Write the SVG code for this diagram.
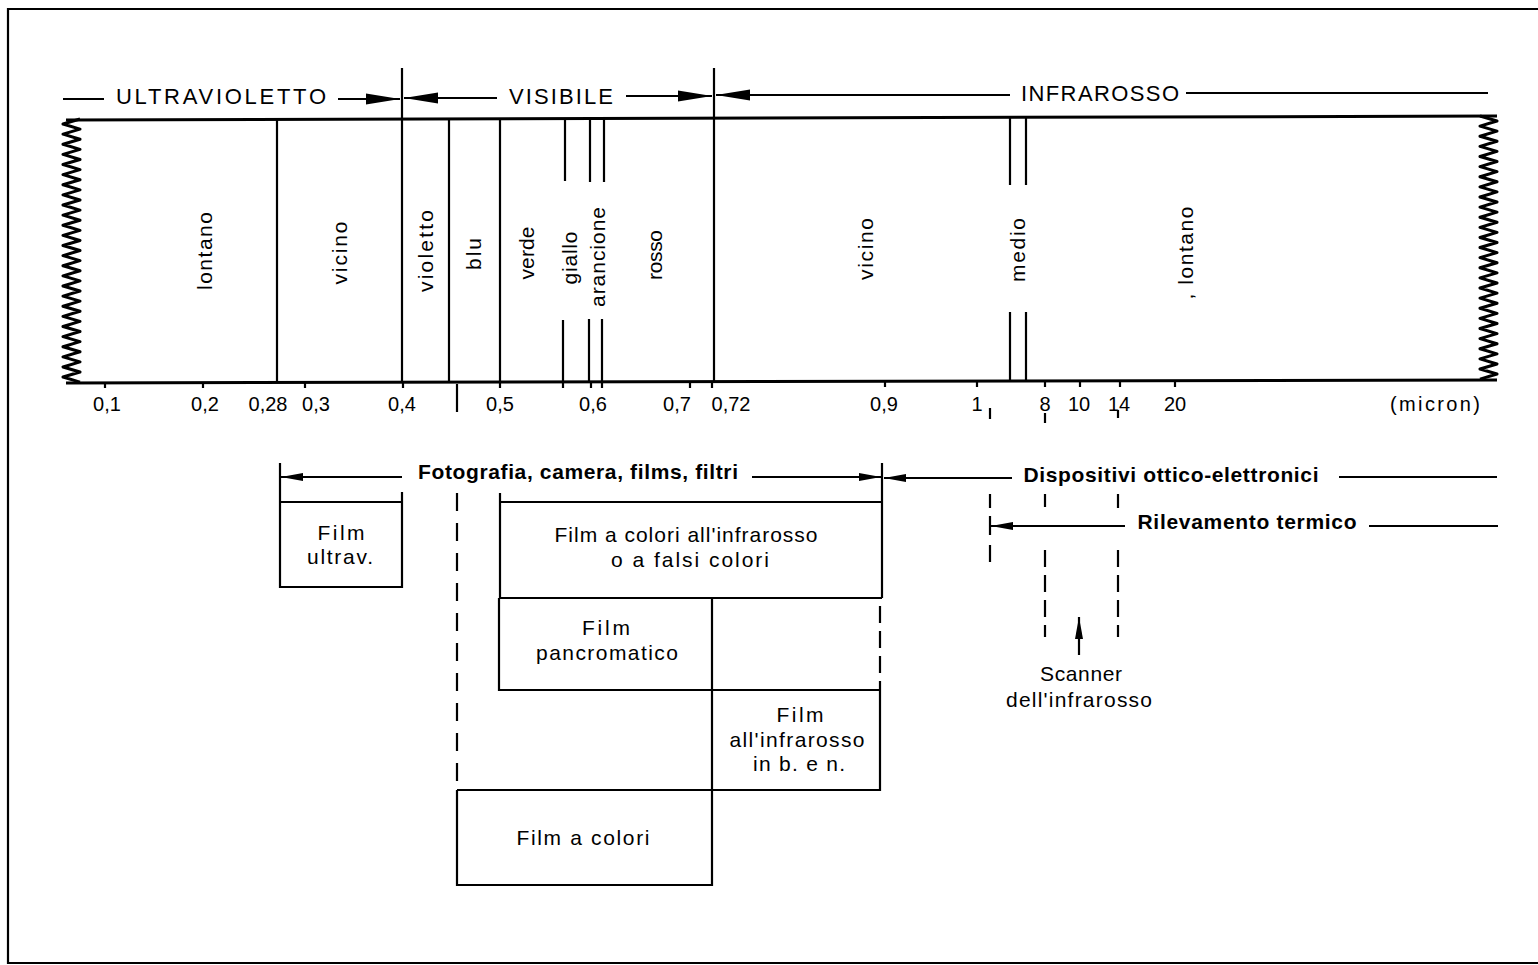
<svg xmlns="http://www.w3.org/2000/svg" width="1538" height="965" viewBox="0 0 1538 965">
<style>
.ln{stroke:#000;stroke-width:2.2;fill:none;stroke-linecap:butt}
.th{stroke-width:3}
.zz{stroke:#000;stroke-width:3;fill:none;stroke-linejoin:round}
.d1{stroke-dasharray:18 12}
.d2{stroke-dasharray:17 8}
.t{font-family:"Liberation Sans",Arial,sans-serif;fill:#000}
.hd{font-size:22px}
.sc{font-size:20px}
.bx{font-size:21px}
.bd{font-size:21px;font-weight:bold}
.vt{font-size:21px}
</style>
<defs>
<marker id="big" markerWidth="36" markerHeight="14" refX="34" refY="7" orient="auto" markerUnits="userSpaceOnUse">
<path d="M0,1.5 L34,7 L0,12.5 Z" fill="#000"/>
</marker>
<marker id="sm" markerWidth="24" markerHeight="10" refX="22" refY="5" orient="auto" markerUnits="userSpaceOnUse">
<path d="M0,1 L22,5 L0,9 Z" fill="#000"/>
</marker>
</defs>
<rect width="1538" height="965" fill="#fff"/>

<g id="frame">
<path class="ln" d="M1538,9 L8,9 L8,963 L1538,963"/>
</g>

<g id="spectrum-band">
<path class="ln th" d="M66,120 L1497,116"/>
<path class="ln th" d="M66,383 L1497,380"/>
<path class="zz" d="M80,119 l-17,5.06 17,5.06 -17,5.06 17,5.06 -17,5.06 17,5.06 -17,5.06 17,5.06 -17,5.06 17,5.06 -17,5.06 17,5.06 -17,5.06 17,5.06 -17,5.06 17,5.06 -17,5.06 17,5.06 -17,5.06 17,5.06 -17,5.06 17,5.06 -17,5.06 17,5.06 -17,5.06 17,5.06 -17,5.06 17,5.06 -17,5.06 17,5.06 -17,5.06 17,5.06 -17,5.06 17,5.06 -17,5.06 17,5.06 -17,5.06 17,5.06 -17,5.06 17,5.06 -17,5.06 17,5.06 -17,5.06 17,5.06 -17,5.06 17,5.06 -17,5.06 17,5.06 -17,5.06 17,5.06 -17,5.06 17,5.06"/>
<path class="zz" d="M1480,116 l17,5.06 -17,5.06 17,5.06 -17,5.06 17,5.06 -17,5.06 17,5.06 -17,5.06 17,5.06 -17,5.06 17,5.06 -17,5.06 17,5.06 -17,5.06 17,5.06 -17,5.06 17,5.06 -17,5.06 17,5.06 -17,5.06 17,5.06 -17,5.06 17,5.06 -17,5.06 17,5.06 -17,5.06 17,5.06 -17,5.06 17,5.06 -17,5.06 17,5.06 -17,5.06 17,5.06 -17,5.06 17,5.06 -17,5.06 17,5.06 -17,5.06 17,5.06 -17,5.06 17,5.06 -17,5.06 17,5.06 -17,5.06 17,5.06 -17,5.06 17,5.06 -17,5.06 17,5.06 -17,5.06 17,5.06 -17,5.06"/>
<path class="ln" d="M277,119 V382"/>
<path class="ln" d="M402,68 V382"/>
<path class="ln" d="M449,119 V382"/>
<path class="ln" d="M500,119 V382"/>
<path class="ln" d="M565,119 V181 M563,320 V382"/>
<path class="ln" d="M590,119 V182 M589,319 V382"/>
<path class="ln" d="M604,119 V182 M602,319 V382"/>
<path class="ln" d="M714,68 V382"/>
<path class="ln" d="M1010,117 V185 M1010,312 V381"/>
<path class="ln" d="M1026,117 V185 M1026,312 V381"/>
<path class="ln" d="M105,382 v6 M203,382 v6 M305,382 v6 M403,382 v6 M500,382 v6 M563,382 v6 M591,382 v6 M602,382 v6 M690,382 v6 M712,382 v6 M885,381 v6 M977,381 v6 M1045,381 v6 M1080,381 v6 M1120,381 v6 M1175,381 v6"/>
<path class="ln" d="M457,384 V412"/>
</g>

<g id="band-labels">
<text class="t vt" transform="translate(212,251) rotate(-90)" text-anchor="middle" textLength="78" lengthAdjust="spacing">lontano</text>
<text class="t vt" transform="translate(347,253) rotate(-90)" text-anchor="middle" textLength="63" lengthAdjust="spacing">vicino</text>
<text class="t vt" transform="translate(433,251) rotate(-90)" text-anchor="middle" textLength="82" lengthAdjust="spacing">violetto</text>
<text class="t vt" transform="translate(481,254) rotate(-90)" text-anchor="middle" textLength="32" lengthAdjust="spacing">blu</text>
<text class="t vt" transform="translate(534,253) rotate(-90)" text-anchor="middle" textLength="53" lengthAdjust="spacing">verde</text>
<text class="t vt" transform="translate(577,258) rotate(-90)" text-anchor="middle" textLength="53" lengthAdjust="spacing">giallo</text>
<text class="t vt" transform="translate(605,257) rotate(-90)" text-anchor="middle" textLength="100" lengthAdjust="spacing">arancione</text>
<text class="t vt" transform="translate(662,255) rotate(-90)" text-anchor="middle" textLength="50" lengthAdjust="spacing">rosso</text>
<text class="t vt" transform="translate(873,249) rotate(-90)" text-anchor="middle" textLength="62" lengthAdjust="spacing">vicino</text>
<text class="t vt" transform="translate(1025,250) rotate(-90)" text-anchor="middle" textLength="64" lengthAdjust="spacing">medio</text>
<text class="t vt" transform="translate(1193,253) rotate(-90)" text-anchor="middle" textLength="93" lengthAdjust="spacing">, lontano</text>
</g>

<g id="scale-labels" class="t sc" text-anchor="middle">
<text x="107" y="411">0,1</text>
<text x="205" y="411">0,2</text>
<text x="268" y="411">0,28</text>
<text x="316" y="411">0,3</text>
<text x="402" y="411">0,4</text>
<text x="500" y="411">0,5</text>
<text x="593" y="411">0,6</text>
<text x="677" y="411">0,7</text>
<text x="731" y="411">0,72</text>
<text x="884" y="411">0,9</text>
<text x="977" y="411">1</text>
<text x="1045" y="411">8</text>
<text x="1079" y="411">10</text>
<text x="1119" y="411">14</text>
<text x="1175" y="411">20</text>
<text x="1435" y="411" textLength="90" lengthAdjust="spacing">(micron)</text>
</g>

<g id="header-labels" class="t hd" text-anchor="middle">
<text x="221" y="104" textLength="210" lengthAdjust="spacing">ULTRAVIOLETTO</text>
<text x="561" y="104" textLength="104" lengthAdjust="spacing">VISIBILE</text>
<text x="1100" y="101" textLength="158" lengthAdjust="spacing">INFRAROSSO</text>
</g>

<g id="film-ultrav">
<path class="ln" d="M280,463 V587 H402 V492 M280,502 H402"/>
<text class="t bx" x="341" y="540" text-anchor="middle" textLength="47" lengthAdjust="spacing">Film</text>
<text class="t bx" x="340" y="564" text-anchor="middle" textLength="66" lengthAdjust="spacing">ultrav.</text>
</g>

<g id="film-colori-infrarosso">
<path class="ln" d="M500,493 V598 M500,502 H882 M500,598 H882 M882,463 V598"/>
<text class="t bx" x="686" y="542" text-anchor="middle" textLength="263" lengthAdjust="spacing">Film a colori all'infrarosso</text>
<text class="t bx" x="690" y="567" text-anchor="middle" textLength="158" lengthAdjust="spacing">o a falsi colori</text>
</g>

<g id="film-pancromatico">
<path class="ln" d="M499,598 V690 H880 M712,598 V690"/>
<path class="ln d2" d="M880,606 V690"/>
<text class="t bx" x="606" y="635" text-anchor="middle" textLength="48" lengthAdjust="spacing">Film</text>
<text class="t bx" x="607" y="660" text-anchor="middle" textLength="142" lengthAdjust="spacing">pancromatico</text>
</g>

<g id="film-infrarosso-bn">
<path class="ln" d="M712,690 V790 M880,690 V791 M457,790 H880"/>
<text class="t bx" x="800" y="722" text-anchor="middle" textLength="47" lengthAdjust="spacing">Film</text>
<text class="t bx" x="797" y="747" text-anchor="middle" textLength="135" lengthAdjust="spacing">all'infrarosso</text>
<text class="t bx" x="799" y="771" text-anchor="middle" textLength="92" lengthAdjust="spacing">in b. e n.</text>
</g>

<g id="film-a-colori">
<path class="ln d1" d="M457,493 V789"/>
<path class="ln" d="M457,790 V885 H712 V790"/>
<text class="t bx" x="583" y="845" text-anchor="middle" textLength="133" lengthAdjust="spacing">Film a colori</text>
</g>

<g id="fotografia">
<text class="t bd" x="578" y="479" text-anchor="middle" textLength="320" lengthAdjust="spacing">Fotografia, camera, films, filtri</text>
</g>

<g id="dispositivi">
<text class="t bd" x="1171" y="482" text-anchor="middle" textLength="295" lengthAdjust="spacing">Dispositivi ottico-elettronici</text>
</g>

<g id="rilevamento">
<text class="t bd" x="1247" y="529" text-anchor="middle" textLength="219" lengthAdjust="spacing">Rilevamento termico</text>
<path class="ln" d="M990,408 V419 M990,494 V508 M990,516 V535 M990,545 V562"/>
</g>

<g id="scanner">
<path class="ln" d="M1045,413 V423 M1045,494 V507 M1118,410 V418 M1118,494 V508"/>
<path class="ln d2" d="M1045,550 V637"/>
<path class="ln d2" d="M1118,550 V637"/>
<text class="t bx" x="1081" y="681" text-anchor="middle" textLength="82" lengthAdjust="spacing">Scanner</text>
<text class="t bx" x="1079" y="707" text-anchor="middle" textLength="146" lengthAdjust="spacing">dell'infrarosso</text>
</g>

<g id="connectors">
<path class="ln" d="M63,99 H104"/>
<path class="ln" d="M338,99 H400" marker-end="url(#big)"/>
<path class="ln" d="M497,98 H404" marker-end="url(#big)"/>
<path class="ln" d="M626,96 H712" marker-end="url(#big)"/>
<path class="ln" d="M1010,95 H716" marker-end="url(#big)"/>
<path class="ln" d="M1186,93 H1488"/>
<path class="ln" d="M402,477 H281" marker-end="url(#sm)"/>
<path class="ln" d="M752,477 H881" marker-end="url(#sm)"/>
<path class="ln" d="M1012,478 H884" marker-end="url(#sm)"/>
<path class="ln" d="M1339,477 H1497"/>
<path class="ln" d="M1125,526 H991" marker-end="url(#sm)"/>
<path class="ln" d="M1369,526 H1498"/>
<path class="ln" d="M1079,655 V617" marker-end="url(#sm)"/>
</g>
</svg>
